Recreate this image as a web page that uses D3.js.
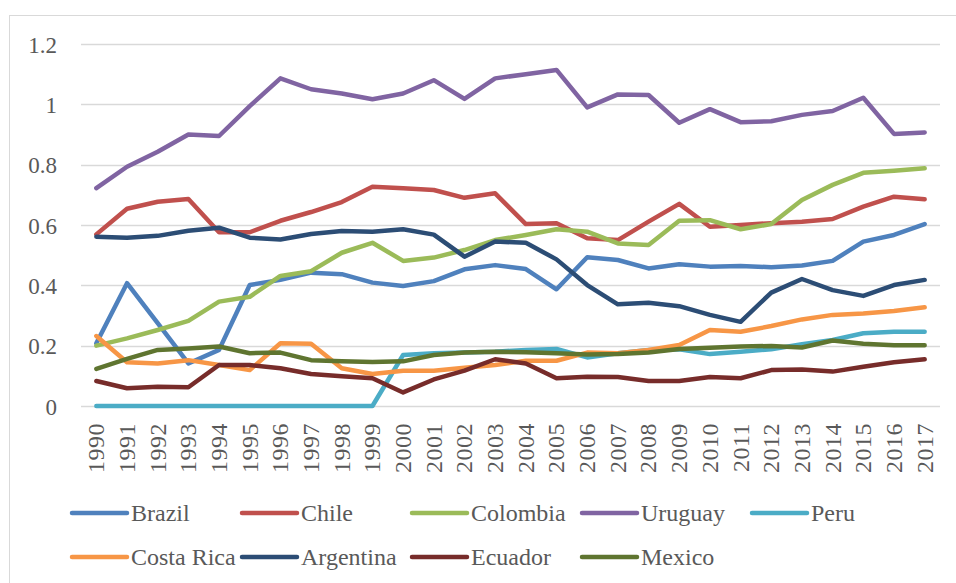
<!DOCTYPE html>
<html>
<head>
<meta charset="utf-8">
<script src="https://cdn.jsdelivr.net/npm/d3@7"></script>
<style>
  html, body { margin: 0; padding: 0; background: #fff; }
  svg { display: block; }
  text { font-family: "Liberation Serif", "DejaVu Serif", serif; fill: #595959; }
</style>
</head>
<body>
<svg id="chart" width="956" height="583"></svg>
<script>
const years = ["1990","1991","1992","1993","1994","1995","1996","1997","1998","1999","2000","2001","2002","2003","2004","2005","2006","2007","2008","2009","2010","2011","2012","2013","2014","2015","2016","2017"];
const yTicks = [0, 0.2, 0.4, 0.6, 0.8, 1, 1.2];

const brazil    = [0.208,0.407,0.275,0.141,0.186,0.401,0.418,0.442,0.437,0.409,0.398,0.414,0.453,0.467,0.454,0.387,0.493,0.484,0.456,0.470,0.462,0.464,0.460,0.466,0.481,0.545,0.567,0.603];
const chile     = [0.569,0.654,0.677,0.686,0.576,0.576,0.614,0.643,0.676,0.727,0.722,0.716,0.690,0.705,0.603,0.606,0.556,0.550,0.611,0.670,0.594,0.600,0.606,0.611,0.620,0.661,0.694,0.685];
const colombia  = [0.200,0.224,0.252,0.282,0.346,0.362,0.431,0.447,0.508,0.541,0.481,0.492,0.517,0.550,0.567,0.586,0.578,0.539,0.534,0.614,0.616,0.586,0.603,0.683,0.733,0.773,0.780,0.788];
const uruguay   = [0.722,0.793,0.843,0.900,0.895,0.994,1.086,1.050,1.036,1.017,1.036,1.080,1.018,1.086,1.100,1.114,0.990,1.033,1.031,0.939,0.984,0.941,0.944,0.965,0.978,1.022,0.902,0.907];
const peru      = [0,0,0,0,0,0,0,0,0,0,0.169,0.175,0.177,0.180,0.186,0.189,0.161,0.175,0.186,0.188,0.172,0.180,0.188,0.205,0.219,0.241,0.246,0.246];
const costaRica = [0.232,0.145,0.141,0.152,0.136,0.119,0.208,0.206,0.125,0.106,0.117,0.117,0.127,0.136,0.150,0.150,0.177,0.175,0.186,0.202,0.252,0.246,0.265,0.287,0.302,0.307,0.315,0.327];
const argentina = [0.561,0.558,0.564,0.581,0.591,0.558,0.552,0.570,0.580,0.578,0.586,0.568,0.495,0.545,0.541,0.486,0.401,0.337,0.342,0.331,0.302,0.279,0.376,0.421,0.384,0.365,0.401,0.418];
const ecuador   = [0.083,0.059,0.064,0.062,0.136,0.136,0.125,0.106,0.099,0.092,0.045,0.088,0.117,0.155,0.141,0.092,0.097,0.096,0.083,0.083,0.096,0.092,0.119,0.121,0.114,0.130,0.145,0.155];
const mexico    = [0.123,0.156,0.186,0.191,0.197,0.175,0.177,0.152,0.148,0.146,0.148,0.169,0.177,0.180,0.178,0.175,0.171,0.172,0.177,0.189,0.193,0.197,0.199,0.194,0.217,0.206,0.201,0.201];

const seriesNames  = ["Brazil","Chile","Colombia","Uruguay","Peru","Costa Rica","Argentina","Ecuador","Mexico"];
const seriesValues = [brazil, chile, colombia, uruguay, peru, costaRica, argentina, ecuador, mexico];
const seriesColors = ["#4F81BD","#C0504D","#9BBB59","#8064A2","#4BACC6","#F79646","#2C4D75","#772C2A","#5F7530"];
// drawing order (Excel draws in series order)
const svg = d3.select("#chart");

// chart border
svg.append("rect")
  .attr("x", 9.5).attr("y", 15.5).attr("width", 960).attr("height", 600)
  .attr("fill", "none").attr("stroke", "#d9d9d9").attr("stroke-width", 1);

const plot = {left: 81, right: 940, top: 44, bottom: 406};

const x = d3.scaleBand().domain(years).range([plot.left, plot.right]).paddingInner(0).paddingOuter(0);
const y = d3.scaleLinear().domain([0, 1.2]).range([plot.bottom, plot.top]);

// gridlines
svg.append("g")
  .selectAll("line")
  .data(yTicks)
  .join("line")
  .attr("x1", plot.left).attr("x2", plot.right)
  .attr("y1", d => Math.round(y(d)) + 0.5).attr("y2", d => Math.round(y(d)) + 0.5)
  .attr("stroke", "#d9d9d9").attr("stroke-width", 1.5);

// y axis labels
const yAxis = d3.axisLeft(y).tickValues(yTicks).tickSize(0).tickPadding(0).tickFormat(d => String(d));
const yg = svg.append("g").attr("transform", `translate(57,0)`).call(yAxis);
yg.select(".domain").remove();
yg.selectAll("text").attr("font-size", 23).attr("fill", "#595959")
  .attr("font-family", "Liberation Serif").attr("dy", "0.35em");

// x axis labels rotated
const xAxis = d3.axisBottom(x).tickSize(0).tickPadding(0);
const xg = svg.append("g").attr("transform", `translate(0,${plot.bottom})`).call(xAxis);
xg.select(".domain").remove();
xg.selectAll("text")
  .attr("font-size", 24).attr("fill", "#595959").attr("font-family", "Liberation Serif")
  .attr("text-anchor", "end")
  .attr("transform", "translate(0,17) rotate(-90)")
  .attr("x", 0).attr("y", 0).attr("dy", "0.33em")
  .attr("letter-spacing", "0.5px");

// lines
const xc = d => x(d) + x.bandwidth() / 2;
const line = d3.line().x((d, i) => xc(years[i])).y(d => y(d));

svg.append("g")
  .selectAll("path")
  .data(seriesValues)
  .join("path")
  .attr("d", d => line(d))
  .attr("fill", "none")
  .attr("stroke", (d, i) => seriesColors[i])
  .attr("stroke-width", 4.5)
  .attr("stroke-linejoin", "round")
  .attr("stroke-linecap", "round");

// legend
const legendCols = [72, 242, 412, 582, 752];
const legendRows = [513, 557];
const lg = svg.append("g");
seriesNames.forEach((name, i) => {
  const col = legendCols[i % 5];
  const row = legendRows[Math.floor(i / 5)];
  lg.append("line")
    .attr("x1", col).attr("x2", col + 55)
    .attr("y1", row).attr("y2", row)
    .attr("stroke", seriesColors[i]).attr("stroke-width", 4.5).attr("stroke-linecap", "round");
  lg.append("text")
    .attr("x", col + 59).attr("y", row).attr("dy", "0.35em")
    .attr("font-size", 24).attr("font-family", "Liberation Serif").attr("fill", "#595959")
    .text(name);
});
</script>
</body>
</html>
